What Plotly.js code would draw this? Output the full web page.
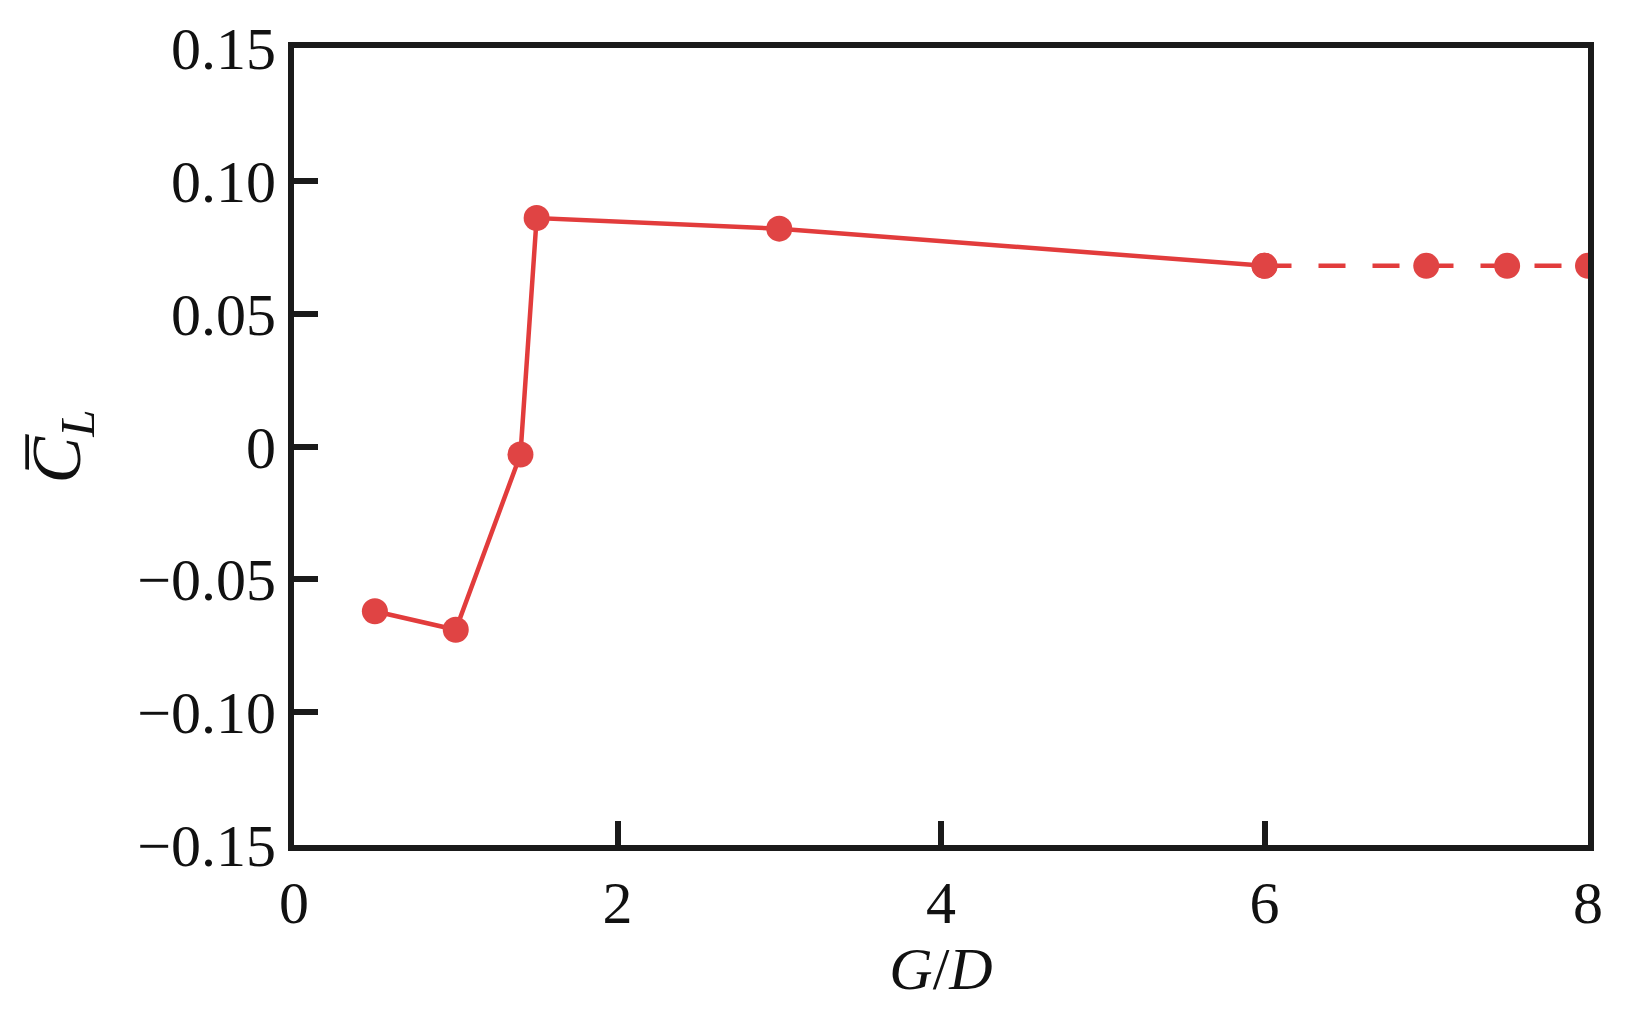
<!DOCTYPE html>
<html>
<head>
<meta charset="utf-8">
<script src="https://cdn.plot.ly/plotly-3.0.1.min.js"></script>
<style>html,body{margin:0;padding:0;background:#fff;}#chart{width:1647px;height:1009px;}</style>
</head>
<body>
<div id="chart"></div>
<script>
// G/D values and mean lift coefficient (solid segment)
const gdSolid = [0.5, 1.0, 1.4, 1.5, 3.0, 6.0];
const clSolid = [-0.062, -0.069, -0.003, 0.086, 0.082, 0.068];
// dashed segment
const gdDashed = [6.0, 7.0, 7.5, 8.0];
const clDashed = [0.068, 0.068, 0.068, 0.068];

const xTickVals = [0, 2, 4, 6, 8];
const xTickText = ['0', '2', '4', '6', '8'];
const yTickVals = [-0.15, -0.10, -0.05, 0, 0.05, 0.10, 0.15];
const yTickText = ['\u22120.15', '\u22120.10', '\u22120.05', '0', '0.05', '0.10', '0.15'];

const red = '#e23c3c';
const mred = '#e04444';
const font = '"Liberation Serif", "Times New Roman", Times, serif';

const traces = [
  {x: gdSolid, y: clSolid, mode: 'lines+markers', type: 'scatter',
   line: {color: red, width: 4.5},
   marker: {color: mred, size: 26}},
  {x: gdDashed, y: clDashed, mode: 'lines+markers', type: 'scatter',
   line: {color: red, width: 4.5, dash: '27px,27px'},
   marker: {color: mred, size: 26}}
];

const layout = {
  width: 1647, height: 1009,
  margin: {l: 294, r: 59, t: 48, b: 164},
  paper_bgcolor: '#fff', plot_bgcolor: '#fff',
  showlegend: false,
  font: {family: font, size: 60, color: '#111'},
  xaxis: {
    range: [0, 8], tickvals: xTickVals, ticktext: xTickText,
    ticks: 'inside', ticklen: 24, tickwidth: 6, tickcolor: '#1a1a1a',
    showline: true, linewidth: 6, linecolor: '#1a1a1a', mirror: true,
    showgrid: false, zeroline: false,
    tickfont: {family: font, size: 60, color: '#111'},
    title: {text: '<i>G</i>/<i>D</i>', font: {family: font, size: 60, color: '#111'}, standoff: 8}
  },
  yaxis: {
    range: [-0.15, 0.15], tickvals: yTickVals, ticktext: yTickText,
    ticks: 'inside', ticklen: 24, tickwidth: 6, tickcolor: '#1a1a1a',
    showline: true, linewidth: 6, linecolor: '#1a1a1a', mirror: true,
    showgrid: false, zeroline: false,
    tickfont: {family: font, size: 60, color: '#111'},
    title: {text: '<i>C\u0305</i><sub><i>L</i></sub>', font: {family: font, size: 70, color: '#111'}, standoff: 36}
  }
};

Plotly.newPlot('chart', traces, layout, {displayModeBar: false, staticPlot: true});
</script>
</body>
</html>
